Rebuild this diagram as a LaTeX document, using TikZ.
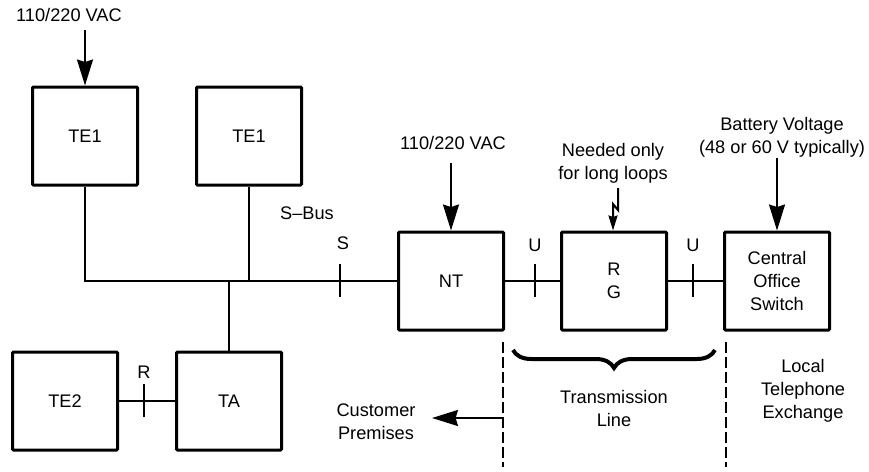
\documentclass[tikz,border=0pt]{standalone}
\usepackage{fontspec}
\setmainfont{Liberation Sans}
\usetikzlibrary{arrows.meta,decorations.pathreplacing}
\begin{document}
\begin{tikzpicture}[x=1pt,y=-1pt,
  every node/.style={font=\fontsize{18.2}{23}\selectfont, align=center, inner sep=0pt},
  blk/.style={draw, line width=3pt, rounded corners=1pt, minimum width=105pt, minimum height=98pt},
  wire/.style={line width=2pt},
  tickmark/.style={line width=2pt},
  bigarrow/.style={line width=2pt, -{Stealth[length=26pt,width=16pt,inset=2.5pt]}},
  smallarrow/.style={line width=2pt, -{Stealth[length=15pt,width=9pt,inset=1.5pt]}},
  boundary/.style={line width=2pt, dash pattern=on 11pt off 4pt},
  bracestyle/.style={line width=4pt, decorate, decoration={brace, amplitude=18pt}}
]
\path[use as bounding box] (0,0) rectangle (869,471);

% boxes
\node[blk] (te1a) at (85,136) {TE1};
\node[blk] (te1b) at (249,136) {TE1};
\node[blk] (nt) at (451,281) {NT};
\node[blk] (rg) at (614,281) {R\\G};
\node[blk] (co) at (777,281) {Central\\Office\\Switch};
\node[blk] (te2) at (65,401) {TE2};
\node[blk] (ta) at (229,401) {TA};

% S-bus wiring
\draw[wire] (te1a.south) |- (nt.west);
\draw[wire] (te1b.south) -- (te1b.south |- nt.west);
\draw[wire] (ta.north) -- (ta.north |- nt.west);
\draw[wire] (nt.east) -- (rg.west);
\draw[wire] (rg.east) -- (co.west);
\draw[wire] (te2.east) -- (ta.west);

% reference point ticks
\coordinate (s1) at (340,264); \coordinate (s2) at (340,297);
\draw[tickmark] (s1) -- (s2);
\coordinate (u1) at (535,264); \coordinate (u2) at (535,297);
\draw[tickmark] (u1) -- (u2);
\coordinate (v1) at (693,264); \coordinate (v2) at (693,297);
\draw[tickmark] (v1) -- (v2);
\coordinate (r1) at (144,384); \coordinate (r2) at (144,417);
\draw[tickmark] (r1) -- (r2);

% tick labels
\node (slbl) at (343,243) {S};
\node (sbus) at (307,213) {S--Bus};
\node (ulbl1) at (535,245) {U};
\node (ulbl2) at (693,245) {U};
\node (rlbl) at (144,372) {R};

% power inputs
\node (vac1) at (69,15) {110/220 VAC};
\coordinate (vac1a) at (85,30);
\draw[bigarrow] (vac1a) -- (te1a.north);

\node (vac2) at (453,143) {110/220 VAC};
\coordinate (vac2a) at (451,163);
\draw[bigarrow] (vac2a) -- (nt.north);

\node (need) at (613,163) {Needed only\\for long loops};
\coordinate (l1) at (618,188);
\coordinate (l2) at (618,210);
\coordinate (l3) at (613,204);
\draw[smallarrow] (l1) -- (l2) -- (l3) -- (l3 |- rg.north);

\node (batt) at (782,137) {Battery Voltage\\(48 or 60 V typically)};
\coordinate (batta) at (777,158);
\draw[bigarrow] (batta) -- (co.north);

% boundaries
\coordinate (d1t) at (503,342); \coordinate (d1b) at (503,467);
\draw[boundary] (d1t) -- (d1b);
\coordinate (d2t) at (726,342); \coordinate (d2b) at (726,467);
\draw[boundary] (d2t) -- (d2b);

% brace
\coordinate (br1) at (715,350); \coordinate (br2) at (513,350);
\draw[bracestyle] (br1) -- (br2);
\node (tline) at (614,408) {Transmission\\Line};

\node (local) at (803,391) {Local\\Telephone\\Exchange};

% customer premises
\coordinate (cpa) at (503,418); \coordinate (cpb) at (432,418);
\draw[bigarrow] (cpa) -- (cpb);
\node (cust) at (376,422) {Customer\\Premises};
\end{tikzpicture}
\end{document}
